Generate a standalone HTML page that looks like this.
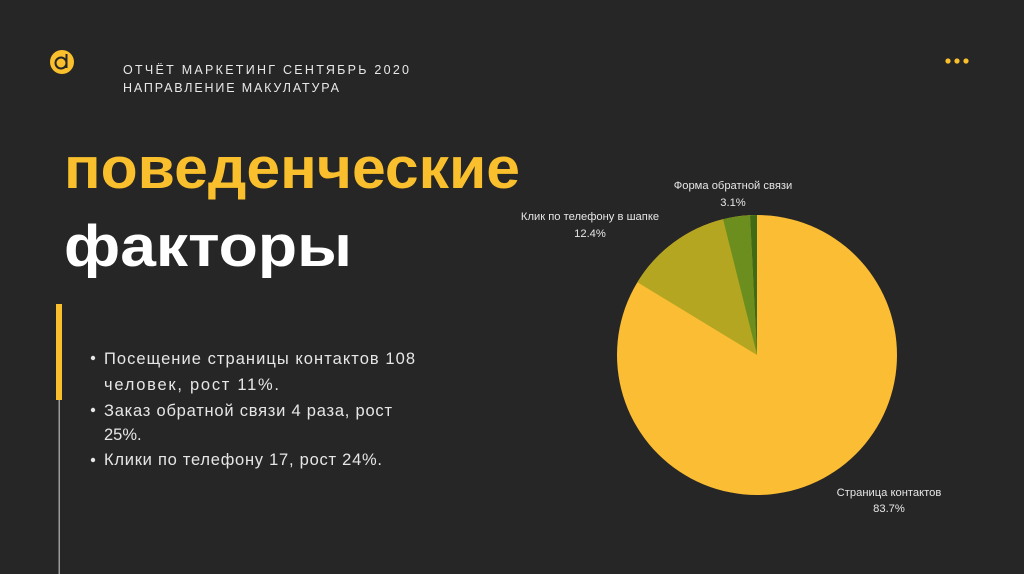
<!DOCTYPE html>
<html><head><meta charset="utf-8"><style>
html,body{margin:0;padding:0;background:#262626;}
svg{display:block}
text{font-family:"Liberation Sans","DejaVu Sans",sans-serif;}
</style></head><body>
<svg width="1024" height="574" viewBox="0 0 1024 574">
<rect width="1024" height="574" fill="#262626"/>
<circle cx="62" cy="62" r="12" fill="#f9bf2c"/>
<circle cx="61" cy="63" r="5.5" fill="none" stroke="#262626" stroke-width="2"/>
<path d="M66.5 54 V68" stroke="#262626" stroke-width="2"/>
<text x="123" y="74" fill="#e8e8e8" font-size="12.5" textLength="286" lengthAdjust="spacing">ОТЧЁТ МАРКЕТИНГ СЕНТЯБРЬ 2020</text>
<text x="123" y="92" fill="#e8e8e8" font-size="12.5" textLength="216" lengthAdjust="spacing">НАПРАВЛЕНИЕ МАКУЛАТУРА</text>
<circle cx="948" cy="61" r="2.6" fill="#f9bf2c"/>
<circle cx="957" cy="61" r="2.6" fill="#f9bf2c"/>
<circle cx="966" cy="61" r="2.6" fill="#f9bf2c"/>
<text x="64" y="188" fill="#f9bf2c" font-size="58" font-weight="bold" textLength="456" lengthAdjust="spacingAndGlyphs">поведенческие</text>
<text x="64" y="266" fill="#ffffff" font-size="58" font-weight="bold" textLength="288" lengthAdjust="spacingAndGlyphs">факторы</text>
<rect x="58.5" y="304" width="1.5" height="270" fill="#9a9a9a"/>
<rect x="56" y="304" width="6" height="96" fill="#f9bf2c"/>
<g fill="#e6e6e6" font-size="16.5">
<circle cx="93" cy="358" r="2.2"/>
<circle cx="93" cy="410" r="2.2"/>
<circle cx="93" cy="460" r="2.2"/>
<text x="104" y="364" textLength="311" lengthAdjust="spacing">Посещение страницы контактов 108</text>
<text x="104" y="390" textLength="175" lengthAdjust="spacing">человек, рост 11%.</text>
<text x="104" y="416" textLength="288" lengthAdjust="spacing">Заказ обратной связи 4 раза, рост</text>
<text x="104" y="440">25%.</text>
<text x="104" y="465" textLength="278" lengthAdjust="spacing">Клики по телефону 17, рост 24%.</text>
</g>
<circle cx="757" cy="355" r="140" fill="#fbbd33"/>
<path d="M757 355 L637.4 282.2 A140 140 0 0 1 723 219.2 Z" fill="#b5a621"/>
<path d="M757 355 L723 219.2 A140 140 0 0 1 750 215.2 Z" fill="#6b8e1e"/>
<path d="M757 355 L750 215.2 A140 140 0 0 1 757 215 Z" fill="#3f6b17"/>
<g fill="#e6e6e6" font-size="11.2" text-anchor="middle">
<text x="733" y="189">Форма обратной связи</text>
<text x="733" y="206">3.1%</text>
<text x="590" y="220">Клик по телефону в шапке</text>
<text x="590" y="237">12.4%</text>
<text x="889" y="496">Страница контактов</text>
<text x="889" y="512">83.7%</text>
</g>
</svg>
</body></html>
